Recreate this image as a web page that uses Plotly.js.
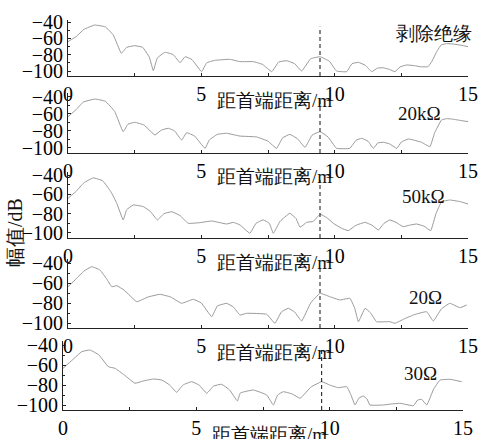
<!DOCTYPE html>
<html>
<head>
<meta charset="utf-8">
<script src="https://cdn.plot.ly/plotly-3.0.1.min.js"></script>
<style>html,body{margin:0;padding:0;background:#fff;}#chart{width:481px;height:439px;}</style>
</head>
<body>
<div id="chart"></div>
<script>
// ---- data ----
const panelLabels = ["剥除绝缘", "20kΩ", "50kΩ", "20Ω", "30Ω"];
const xTitle = "距首端距离/m";
const yTitle = "幅值/dB";
const xTicks = [0, 5, 10, 15];
const yTicks = [-40, -60, -80, -100];
const faultX = [9.45, 9.45, 9.45, 9.45, 9.7];

const x1 = [0,0.3,0.6,1.0,1.4,1.7,2.0,2.2,2.5,2.8,3.05,3.2,3.35,3.64,3.95,4.2,4.39,4.65,5.01,5.2,5.5,6.07,6.45,6.95,7.3,7.64,7.9,8.2,8.5,8.76,9.1,9.45,9.8,10.07,10.45,10.65,10.89,11.15,11.39,11.6,11.82,12.05,12.26,12.45,12.7,13.0,13.2,13.5,13.64,13.85,14.0,14.2,14.45,14.75,15.0];
const y1 = [-64,-58,-49,-43.7,-46,-56,-78.3,-71,-69,-71,-83,-99.6,-84,-77,-80,-89.8,-82.5,-86,-100.8,-90,-87,-85.7,-88.5,-88.5,-92,-100.8,-89,-87.4,-91,-100,-85,-82.5,-88,-100,-100.8,-91,-89.4,-93,-100.8,-96.5,-96,-98,-100.8,-95,-92.6,-93.5,-94.7,-94.7,-88.5,-75,-68,-66.5,-67,-68.5,-70.2];

const x2 = [0,0.3,0.57,1.01,1.4,1.75,2.07,2.25,2.51,2.85,3.26,3.5,3.76,4.0,4.26,4.45,4.75,5.14,5.3,5.6,5.95,6.45,7.07,7.5,7.82,8.05,8.32,8.6,8.89,9.15,9.45,9.75,10.07,10.57,10.8,11.01,11.25,11.45,11.62,11.82,12.05,12.33,12.5,12.76,13.0,13.26,13.57,13.75,14.01,14.2,14.39,14.7,15.0];
const y2 = [-63.2,-55,-46,-42.4,-45,-57,-80.8,-72,-69.8,-73,-84.7,-79,-76.8,-80,-90.6,-82,-86,-100.4,-90.6,-84,-82.7,-86,-87,-92,-100.4,-88,-84,-89,-99.2,-85,-80.8,-87,-100.4,-100.4,-91,-88.6,-92,-100.4,-94,-93.3,-95,-100.4,-93,-89.4,-91,-93.3,-98.5,-82,-67,-65.5,-65.9,-67.5,-69];

const x3 = [0,0.3,0.6,0.95,1.3,1.6,1.83,2.07,2.2,2.45,2.83,3.1,3.35,3.6,3.89,4.2,4.51,4.95,5.39,5.95,6.2,6.45,6.82,7.05,7.32,7.55,7.7,7.95,8.32,8.55,8.7,8.95,9.2,9.45,9.7,9.95,10.25,10.51,10.8,11.14,11.4,11.64,11.85,12.07,12.3,12.57,12.8,13.07,13.35,13.6,13.8,14.01,14.32,14.7,15.0];
const y3 = [-64.1,-57,-48,-43,-46,-57,-69.3,-86.5,-76,-71,-72.8,-78,-86.5,-80,-78,-82,-90,-89.3,-87.6,-90.7,-89,-91.7,-100.3,-90,-86.5,-90,-100.3,-88,-79.6,-85,-94,-89,-88,-80.6,-84,-90,-95,-97.6,-92,-89,-92,-96.9,-90,-86.5,-89,-93.5,-92,-90.7,-93,-97.6,-80,-67.6,-65.9,-67.5,-70];

const x4 = [0,0.3,0.6,0.89,1.2,1.45,1.64,1.83,2.1,2.58,3.0,3.45,3.85,4.26,4.7,5.0,5.39,5.6,5.95,6.2,6.45,6.7,7.45,7.76,8.0,8.26,8.5,8.76,9.1,9.45,9.82,10.2,10.57,10.75,10.89,11.14,11.35,11.57,12.07,12.26,12.6,12.95,13.2,13.45,13.7,14.0,14.32,14.7,14.95];
const y4 = [-63.7,-56,-48,-43.7,-47,-56,-63.7,-62.7,-67,-78.7,-74,-71.3,-74,-80.3,-76.3,-80,-93.7,-83,-80.3,-84,-92,-90.3,-91.3,-100.3,-89,-85.3,-89,-98,-80,-70.3,-73.7,-77,-75.3,-85,-98.7,-85.3,-90,-98.7,-98.7,-100.3,-96,-92,-90,-88.7,-98,-86,-80.3,-84.7,-82];

const x5 = [0,0.35,0.7,1.01,1.35,1.7,1.95,2.3,2.7,3.0,3.39,3.7,4.0,4.26,4.5,4.82,5.1,5.39,5.65,5.95,6.25,6.54,6.65,7.14,7.64,7.89,8.05,8.26,8.6,8.89,9.3,9.7,10.0,10.32,10.64,10.8,10.95,11.1,11.26,11.4,11.51,12.01,12.3,12.64,13.14,13.3,13.45,13.64,13.9,14.14,14.51,14.95];
const y5 = [-63.3,-55,-46.7,-45,-50,-61.7,-63.3,-70,-78.3,-76,-74,-75,-80,-87.3,-80,-76.7,-80,-88.3,-81,-79.3,-85,-96,-88,-85,-90,-100,-90,-86.7,-89,-93.3,-82,-76.7,-80,-82.7,-81.7,-90,-100,-93,-91,-94,-100,-100,-99,-98.3,-100.7,-95,-94.3,-100,-84,-75,-74.3,-76.7];

const xs = [x1, x2, x3, x4, x5];
const ys = [y1, y2, y3, y4, y5];

// ---- layout geometry (pixels) ----
const W = 481, H = 439;
// [top px, bottom px, y at top, y at bottom]
const panelPx = [
  [20, 76, -37.55, -106.1],
  [93, 153, -35.3, -105.9],
  [172, 238, -36.9, -105.2],
  [259, 328, -36, -105],
  [341, 410, -36, -105]
];
const panelXPx = [[68,468],[68,468],[68,468],[68,468],[63,463]];
const labelPos = [[434, 33], [419, 113], [423, 196], [425, 297], [420, 373]];

const FONT = "Liberation Serif";

const traces = [];
const layout = {
  width: W, height: H,
  margin: {l: 0, r: 0, t: 0, b: 0},
  paper_bgcolor: "#fff", plot_bgcolor: "rgba(0,0,0,0)",
  showlegend: false,
  font: {family: FONT, color: "#111"},
  shapes: [], annotations: []
};

for (let i = 0; i < 5; i++) {
  const n = i === 0 ? "" : String(i + 1);
  traces.push({
    x: xs[i], y: ys[i], type: "scatter", mode: "lines",
    xaxis: "x" + n, yaxis: "y" + n,
    line: {color: "#9a9a9a", width: 1, shape: "spline", smoothing: 0.3},
    hoverinfo: "skip"
  });
  const p = panelPx[i];
  const xp = panelXPx[i];
  layout["xaxis" + n] = {
    domain: [xp[0] / W, xp[1] / W],
    anchor: "y" + n,
    range: [0, 15],
    tickvals: xTicks,
    ticks: "inside", ticklen: 3, tickcolor: "#222",
    minor: {tickvals: [2.5, 7.5, 12.5], ticks: "inside", ticklen: 3, tickcolor: "#222"},
    showline: true, linecolor: "#222", linewidth: 1,
    showgrid: false, zeroline: false,
    tickfont: {family: FONT, size: 20, color: "#000"},
    fixedrange: true
  };
  layout["yaxis" + n] = {
    domain: [1 - p[1] / H, 1 - p[0] / H],
    anchor: "x" + n,
    range: [p[3], p[2]],
    tickvals: yTicks,
    ticks: "inside", ticklen: 3, tickcolor: "#222",
    minor: {tickvals: [-50, -70, -90], ticks: "inside", ticklen: 2, tickcolor: "#222"},
    showline: true, linecolor: "#222", linewidth: 1,
    showgrid: false, zeroline: false,
    tickfont: {family: FONT, size: 20, color: "#000"},
    ticklabelstandoff: 0,
    fixedrange: true
  };
  layout.shapes.push({
    type: "line", xref: "x" + n, yref: "y" + n + " domain",
    x0: faultX[i], x1: faultX[i], y0: 0, y1: 0.88,
    line: {color: "#111", width: 1, dash: "4px,3px"}
  });
  // x-axis title
  layout.annotations.push({
    text: xTitle, xref: "paper", yref: "paper",
    x: ((xp[0] + xp[1]) / 2 + 6) / W, y: 1 - (p[1] + 24) / H,
    xanchor: "center", yanchor: "middle", showarrow: false,
    font: {family: FONT, size: 19, color: "#111"}
  });
  // panel label
  layout.annotations.push({
    text: panelLabels[i], xref: "paper", yref: "paper",
    x: labelPos[i][0] / W, y: 1 - labelPos[i][1] / H,
    xanchor: "center", yanchor: "middle", showarrow: false,
    font: {family: FONT, size: 19, color: "#111"}
  });
}
layout.annotations.push({
  text: yTitle, xref: "paper", yref: "paper",
  x: 15 / W, y: 1 - 233 / H, textangle: -90,
  xanchor: "center", yanchor: "middle", showarrow: false,
  font: {family: FONT, size: 20, color: "#111"}
});

Plotly.newPlot("chart", traces, layout, {displayModeBar: false, staticPlot: true});
</script>
</body>
</html>
